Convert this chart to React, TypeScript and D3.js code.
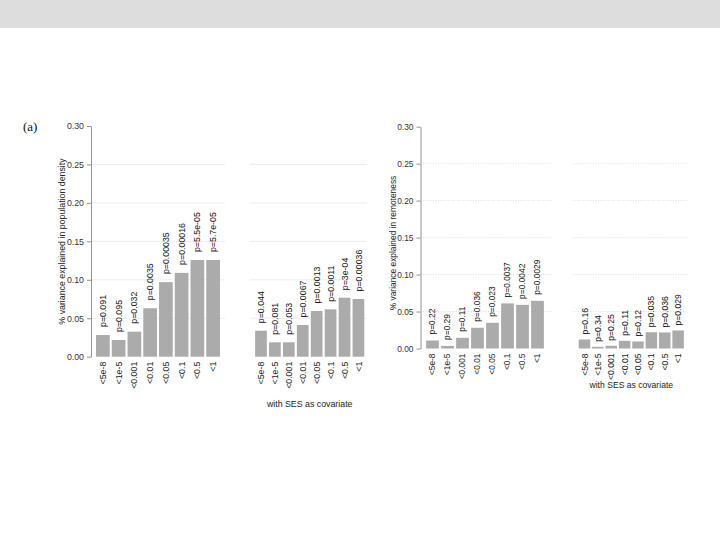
import { useRef, useEffect } from "react";
import * as d3 from "d3";

// p-value thresholds used on every x axis
const thresholds = ["<5e-8", "<1e-5", "<0.001", "<0.01", "<0.05", "<0.1", "<0.5", "<1"];

// population density
const densityValues = [0.0282, 0.0217, 0.0325, 0.063, 0.097, 0.109, 0.1257, 0.1257];
const densityP = ["p=0.091", "p=0.095", "p=0.032", "p=0.0035", "p=0.00035", "p=0.00016", "p=5.5e-05", "p=5.7e-05"];
const densitySesValues = [0.0338, 0.0187, 0.0187, 0.0412, 0.0594, 0.0616, 0.0767, 0.075];
const densitySesP = ["p=0.044", "p=0.081", "p=0.053", "p=0.0067", "p=0.0013", "p=0.0011", "p=3e-04", "p=0.00036"];

// remoteness
const remoteValues = [0.0108, 0.0035, 0.0145, 0.028, 0.0347, 0.061, 0.059, 0.0645];
const remoteP = ["p=0.22", "p=0.29", "p=0.11", "p=0.036", "p=0.023", "p=0.0037", "p=0.0042", "p=0.0029"];
const remoteSesValues = [0.0122, 0.0023, 0.0037, 0.0104, 0.0095, 0.022, 0.0217, 0.0244];
const remoteSesP = ["p=0.16", "p=0.34", "p=0.25", "p=0.11", "p=0.12", "p=0.035", "p=0.036", "p=0.029"];

const yTicks = [0, 0.05, 0.1, 0.15, 0.2, 0.25, 0.3];
const gridTicks = [0.05, 0.1, 0.15, 0.2, 0.25];

const FONT = "'Liberation Sans', Arial, Helvetica, sans-serif";
const BAR = "#ababab";

interface PanelSpec {
  values: number[];
  pLabels: string[];
  band: [number, number];
  padding: number;
  yRange: [number, number];
  grid: [number, number];
  dotted: boolean;
  axisX?: number;
  yLabel?: string;
  yLabelX?: number;
  yLabelY?: number;
  title?: string;
  titleY?: number;
  font: number;
  gap: number;
}

const panels: PanelSpec[] = [
  {
    values: densityValues, pLabels: densityP, band: [95, 221], padding: 0.13,
    yRange: [356.7, 126], grid: [91, 225], dotted: false, axisX: 91,
    yLabel: "% variance explained in population density", yLabelX: 65, yLabelY: 241.5,
    font: 8.8, gap: 8,
  },
  {
    values: densitySesValues, pLabels: densitySesP, band: [254, 365.4], padding: 0.16,
    yRange: [356.7, 126], grid: [250, 367], dotted: false,
    title: "with SES as covariate", titleY: 407, font: 8.8, gap: 7.5,
  },
  {
    values: remoteValues, pLabels: remoteP, band: [425, 545], padding: 0.15,
    yRange: [348.5, 126.7], grid: [423, 552], dotted: true, axisX: 420.5,
    yLabel: "% variance explained in remoteness", yLabelX: 396, yLabelY: 243,
    font: 8.4, gap: 6,
  },
  {
    values: remoteSesValues, pLabels: remoteSesP, band: [577.8, 684.8], padding: 0.14,
    yRange: [348.5, 126.7], grid: [573, 688], dotted: true,
    title: "with SES as covariate", titleY: 388, font: 8.6, gap: 5,
  },
];

function drawPanel(g: d3.Selection<SVGGElement, unknown, null, undefined>, spec: PanelSpec) {
  const x = d3
    .scaleBand<string>()
    .domain(thresholds)
    .range(spec.band)
    .paddingInner(spec.padding)
    .paddingOuter(spec.padding / 2);

  const y = d3.scaleLinear().domain([0, 0.3]).range(spec.yRange);

  // grid lines
  g.append("g")
    .selectAll("line")
    .data(gridTicks)
    .join("line")
    .attr("x1", spec.grid[0])
    .attr("x2", spec.grid[1])
    .attr("y1", (d) => y(d))
    .attr("y2", (d) => y(d))
    .attr("stroke", spec.dotted ? "#d6d6d6" : "#e8e8e8")
    .attr("stroke-width", 0.8)
    .attr("stroke-dasharray", spec.dotted ? "1,1.5" : null);

  // y axis
  if (spec.axisX !== undefined) {
    const axis = d3
      .axisLeft(y)
      .tickValues(yTicks)
      .tickFormat(d3.format(".2f"))
      .tickSize(4)
      .tickSizeOuter(0)
      .tickPadding(3);
    const ag = g.append("g").attr("transform", `translate(${spec.axisX},0)`).call(axis);
    ag.select(".domain").attr("stroke", "#777").attr("stroke-width", 0.8);
    ag.selectAll(".tick line").attr("stroke", "#777").attr("stroke-width", 0.8);
    ag.selectAll(".tick text")
      .attr("fill", "#333")
      .attr("font-size", spec.font)
      .attr("font-family", FONT);
  }

  // bars
  g.append("g")
    .selectAll("rect")
    .data(spec.values)
    .join("rect")
    .attr("x", (_, i) => x(thresholds[i])!)
    .attr("width", x.bandwidth())
    .attr("y", (d) => y(d))
    .attr("height", (d) => y(0) - y(d))
    .attr("fill", BAR);

  // p-value labels above bars
  g.append("g")
    .selectAll("text")
    .data(spec.values)
    .join("text")
    .attr("transform", (d, i) => {
      const cx = x(thresholds[i])! + x.bandwidth() / 2;
      return `translate(${cx},${y(d) - spec.gap}) rotate(-90)`;
    })
    .attr("dy", "0.35em")
    .attr("font-size", spec.font)
    .attr("font-family", FONT)
    .attr("fill", "#111")
    .text((_, i) => spec.pLabels[i]);

  // threshold labels under bars
  g.append("g")
    .selectAll("text")
    .data(thresholds)
    .join("text")
    .attr("transform", (d) => {
      const cx = x(d)! + x.bandwidth() / 2;
      return `translate(${cx},${y(0) + 5}) rotate(-90)`;
    })
    .attr("text-anchor", "end")
    .attr("dy", "0.35em")
    .attr("font-size", spec.font)
    .attr("font-family", FONT)
    .attr("fill", "#222")
    .text((d) => d);

  if (spec.yLabel) {
    g.append("text")
      .attr("transform", `translate(${spec.yLabelX},${spec.yLabelY}) rotate(-90)`)
      .attr("text-anchor", "middle")
      .attr("font-size", spec.font)
      .attr("font-family", FONT)
      .attr("fill", "#222")
      .text(spec.yLabel);
  }

  if (spec.title) {
    const mid = (spec.band[0] + spec.band[1]) / 2;
    g.append("text")
      .attr("x", mid)
      .attr("y", spec.titleY!)
      .attr("text-anchor", "middle")
      .attr("font-size", spec.font)
      .attr("font-family", FONT)
      .attr("fill", "#222")
      .text(spec.title);
  }
}

export default function App() {
  const svgRef = useRef<SVGSVGElement>(null);

  useEffect(() => {
    if (!svgRef.current) return;
    const svg = d3.select(svgRef.current);
    svg.selectAll("*").remove();

    svg.append("rect").attr("width", 720).attr("height", 540).attr("fill", "#fff");
    svg.append("rect").attr("width", 720).attr("height", 28).attr("fill", "#dddddd");

    svg
      .append("text")
      .attr("x", 23)
      .attr("y", 131)
      .attr("font-family", "'Liberation Serif', 'Times New Roman', serif")
      .attr("font-size", 13)
      .attr("fill", "#111")
      .text("(a)");

    panels.forEach((p) => drawPanel(svg.append("g"), p));
  }, []);

  return (
    <svg
      ref={svgRef}
      width={720}
      height={540}
      style={{ position: "absolute", left: 0, top: 0 }}
    />
  );
}
